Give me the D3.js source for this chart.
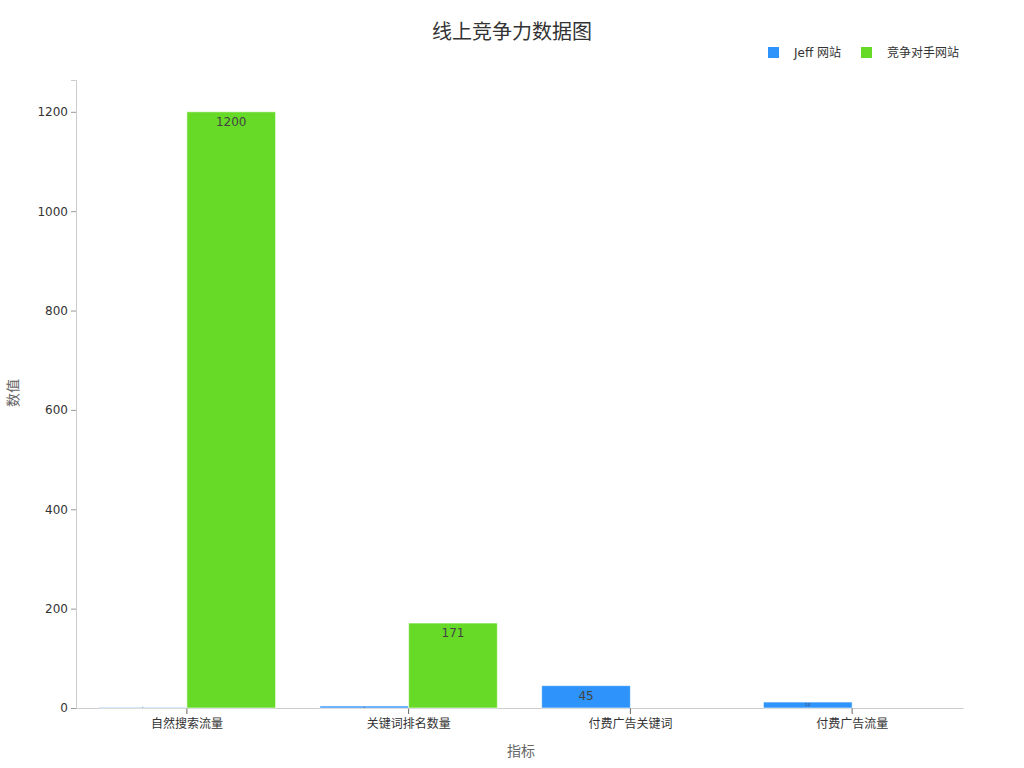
<!DOCTYPE html>
<html>
<head>
<meta charset="utf-8">
<script src="https://cdn.jsdelivr.net/npm/d3@7"></script>
<style>
  body { margin: 0; background: #fff; }
  svg text { font-family: "DejaVu Sans", "Noto Sans CJK SC", sans-serif; }
</style>
</head>
<body>
<div class="chart"></div>
<script>
const categories = ['自然搜索流量', '关键词排名数量', '付费广告关键词', '付费广告流量']
const seriesNames = ['Jeff 网站', '竞争对手网站']
const jeffValues = [1, 4, 45, 12]
const rivalValues = [1200, 171, 0, 0]
const yTicks = [0, 200, 400, 600, 800, 1000, 1200]
const colors = ['#2E93FA', '#66DA26']

const FONT = '"DejaVu Sans", "Noto Sans CJK SC", sans-serif'
const width = 1024
const height = 768
const margin = {top: 80, right: 61, bottom: 60, left: 76}
const innerW = width - margin.left - margin.right
const innerH = height - margin.top - margin.bottom

const data = categories.map((c, i) => ({cat: c, values: [jeffValues[i], rivalValues[i]]}))

const svg = d3.select('.chart').append('svg')
  .attr('width', width)
  .attr('height', height)
  .attr('font-family', FONT)

svg.append('text')
  .attr('x', width / 2)
  .attr('y', 39)
  .attr('text-anchor', 'middle')
  .attr('font-size', 20)
  .attr('fill', '#333')
  .text('线上竞争力数据图')

const g = svg.append('g')
  .attr('transform', 'translate(' + margin.left + ',' + margin.top + ')')

const x0 = d3.scaleBand().domain(categories).range([0, innerW]).paddingInner(0.2).paddingOuter(0.1)
const x1 = d3.scaleBand().domain([0, 1]).range([0, x0.bandwidth()])
const y = d3.scaleLinear().domain([0, 1264]).range([innerH, 0])

// axes
const yAxis = g.append('g')
  .call(d3.axisLeft(y).tickValues(yTicks).tickFormat(d3.format('d')).tickSize(5).tickPadding(3))
  .attr('font-family', FONT)
yAxis.select('.domain').attr('stroke', '#ccc')
yAxis.selectAll('.tick line').attr('stroke', '#999')
yAxis.selectAll('.tick text').attr('font-size', 12).attr('fill', '#333')

const xAxis = g.append('g')
  .attr('transform', 'translate(0,' + innerH + ')')
  .call(d3.axisBottom(x0).tickSize(6).tickSizeOuter(0).tickPadding(5))
  .attr('font-family', FONT)
xAxis.select('.domain').attr('stroke', '#ccc')
xAxis.selectAll('.tick line').attr('stroke', '#666')
xAxis.selectAll('.tick text').attr('font-size', 12).attr('fill', '#333')

// bars
const groups = g.selectAll('.grp')
  .data(data)
  .enter().append('g')
  .attr('class', 'grp')
  .attr('transform', d => 'translate(' + x0(d.cat) + ',0)')

const bars = groups.selectAll('g.bar')
  .data(d => d.values.map((v, i) => ({v, i})))
  .enter().append('g')
  .attr('class', 'bar')

bars.append('rect')
  .attr('x', d => x1(d.i))
  .attr('y', d => y(d.v))
  .attr('width', x1.bandwidth())
  .attr('height', d => innerH - y(d.v))
  .attr('fill', d => colors[d.i])
  .attr('stroke', '#fff')
  .attr('stroke-opacity', 0.6)
  .attr('stroke-width', 1)

const labelSize = d => Math.max(2, Math.min(12, (innerH - y(d.v)) * 0.7))

bars.filter(d => d.v > 0).append('text')
  .attr('x', d => x1(d.i) + x1.bandwidth() / 2)
  .attr('y', d => {
    const h = innerH - y(d.v)
    const fs = labelSize(d)
    return y(d.v) + Math.min(fs + 2, h / 2 + fs * 0.35)
  })
  .attr('text-anchor', 'middle')
  .attr('font-size', labelSize)
  .attr('fill', '#444')
  .text(d => d.v)

// axis titles
svg.append('text')
  .attr('x', 521)
  .attr('y', 756)
  .attr('text-anchor', 'middle')
  .attr('font-size', 14)
  .attr('fill', '#666')
  .text('指标')

svg.append('text')
  .attr('transform', 'translate(18,393) rotate(-90)')
  .attr('text-anchor', 'middle')
  .attr('font-size', 14)
  .attr('fill', '#666')
  .text('数值')

// legend
const legend = svg.append('g').attr('transform', 'translate(768,47)')
const items = legend.selectAll('g')
  .data(seriesNames)
  .enter().append('g')
  .attr('transform', (d, i) => 'translate(' + (i * 93) + ',0)')
items.append('rect')
  .attr('width', 11)
  .attr('height', 11)
  .attr('fill', (d, i) => colors[i])
items.append('text')
  .attr('x', 26)
  .attr('y', 10)
  .attr('font-size', 12)
  .attr('fill', '#333')
  .text(d => d)
</script>
</body>
</html>
